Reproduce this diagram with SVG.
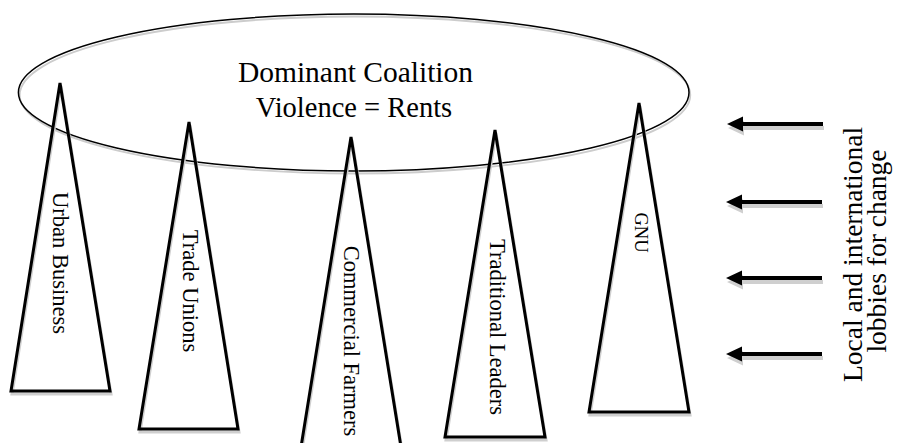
<svg xmlns="http://www.w3.org/2000/svg" xmlns:xlink="http://www.w3.org/1999/xlink" width="898" height="443" viewBox="0 0 898 443">
  <style>
    .txt { font-family: "Liberation Serif", "Times New Roman", serif; fill: #000; }
    .title { font-size: 28.5px; }
    .label { font-size: 22.5px; }
    .side { font-size: 27.5px; }
    .outline { fill: none; stroke: #000; stroke-width: 3; stroke-linejoin: miter; }
    .outline-shadow { fill: none; stroke: #cfcfcf; stroke-width: 3; }
    .ring { fill: none; stroke: #000; stroke-width: 1.5; }
    .ring-shadow { fill: none; stroke: #cccccc; stroke-width: 1.8; }
    .arrow { fill: #000; }
    .arrow-shadow { fill: #cfcfcf; }
  </style>
  <defs>
    <!-- left-pointing block arrow, tip at origin -->
    <path id="arrowShape" d="M0,0 L16,-7.5 L16,-2 L96,-2 L96,2 L16,2 L16,7.5 Z"/>
  </defs>

  <rect width="898" height="443" fill="#fff"/>

  <!-- coalition ring -->
  <g id="coalition">
    <ellipse class="ring-shadow" cx="355" cy="95" rx="335.3" ry="78.5"/>
    <ellipse class="ring" cx="353.7" cy="92.5" rx="335.3" ry="78.5"/>
    <text class="txt title" style="font-size:29.5px" x="355.5" y="82" text-anchor="middle">Dominant Coalition</text>
    <text class="txt title" x="354" y="117" text-anchor="middle">Violence = Rents</text>
  </g>

  <!-- interest groups -->
  <g id="urban-business">
    <polygon class="outline-shadow" points="61,86 12,394 111,394"/>
    <polygon class="outline" points="60,83 11,391 110,391"/>
    <text class="txt label" transform="translate(61,263) rotate(90)" text-anchor="middle" dy="0.35em">Urban Business</text>
  </g>
  <g id="trade-unions">
    <polygon class="outline-shadow" points="190,125 140,432 239,432"/>
    <polygon class="outline" points="189,122 139,429 238,429"/>
    <text class="txt label" transform="translate(191,291) rotate(90)" text-anchor="middle" dy="0.35em">Trade Unions</text>
  </g>
  <g id="commercial-farmers">
    <polygon class="outline-shadow" points="352,140 302,450 402,450"/>
    <polygon class="outline" points="351,137 301,447 401,447"/>
    <text class="txt label" transform="translate(352,341) rotate(90)" text-anchor="middle" dy="0.35em">Commercial Farmers</text>
  </g>
  <g id="traditional-leaders">
    <polygon class="outline-shadow" points="496,133 446,440 546,440"/>
    <polygon class="outline" points="495,130 445,437 545,437"/>
    <text class="txt label" transform="translate(498,327) rotate(90)" text-anchor="middle" dy="0.35em">Traditional Leaders</text>
  </g>
  <g id="gnu">
    <polygon class="outline-shadow" points="640,106 590,415 690,415"/>
    <polygon class="outline" points="639,103 589,412 689,412"/>
    <text class="txt label" style="font-size:18.5px" transform="translate(641,232.5) rotate(90)" text-anchor="middle" dy="0.35em">GNU</text>
  </g>

  <!-- pressure arrows -->
  <g id="connectors">
    <use xlink:href="#arrowShape" class="arrow-shadow" x="728" y="128"/>
    <use xlink:href="#arrowShape" class="arrow" x="727" y="124"/>
    <use xlink:href="#arrowShape" class="arrow-shadow" x="727" y="206"/>
    <use xlink:href="#arrowShape" class="arrow" x="726" y="202"/>
    <use xlink:href="#arrowShape" class="arrow-shadow" x="727" y="282"/>
    <use xlink:href="#arrowShape" class="arrow" x="726" y="278"/>
    <use xlink:href="#arrowShape" class="arrow-shadow" x="727" y="358"/>
    <use xlink:href="#arrowShape" class="arrow" x="726" y="354"/>
  </g>

  <g id="lobbies">
    <text class="txt side" transform="translate(862,251) rotate(-90)" text-anchor="middle">
      <tspan x="0" y="0">Local and international</tspan>
      <tspan x="0" y="23.5">lobbies for change</tspan>
    </text>
  </g>
</svg>
